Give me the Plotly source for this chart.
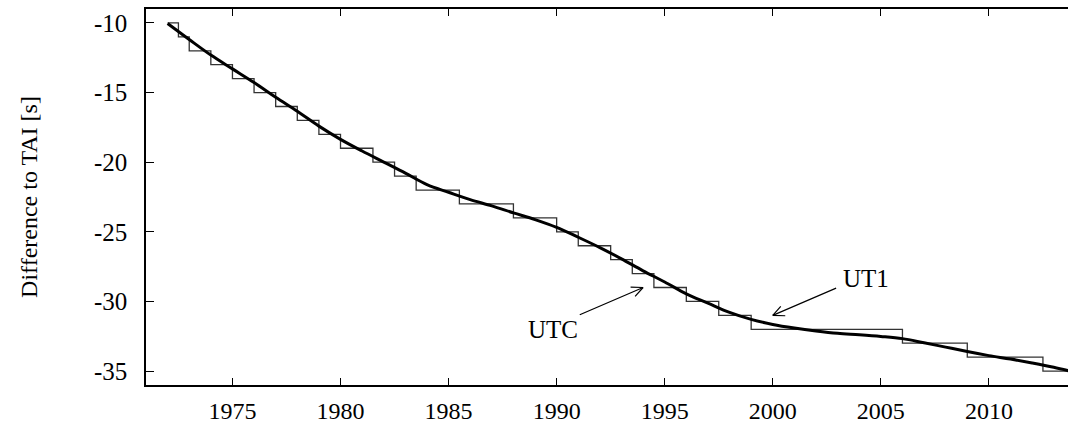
import plotly.graph_objects as go

# UTC - TAI: leap-second steps (epoch of change, value after change)
utc_years = [1972.0, 1972.5, 1973.0, 1974.0, 1975.0, 1976.0, 1977.0, 1978.0,
             1979.0, 1980.0, 1981.5, 1982.5, 1983.5, 1985.5, 1988.0, 1990.0,
             1991.0, 1992.5, 1993.5, 1994.5, 1996.0, 1997.5, 1999.0, 2006.0,
             2009.0, 2012.5, 2014.0]
utc_diff = [-10, -11, -12, -13, -14, -15, -16, -17,
            -18, -19, -20, -21, -22, -23, -24, -25,
            -26, -27, -28, -29, -30, -31, -32, -33,
            -34, -35, -35]

# UT1 - TAI, read at the start of each year
ut1_years = [1972, 1973, 1974, 1975, 1976, 1977, 1978, 1979, 1980, 1981,
             1982, 1983, 1984, 1985, 1986, 1987, 1988, 1989, 1990, 1991,
             1992, 1993, 1994, 1995, 1996, 1997, 1998, 1999, 2000, 2001,
             2002, 2003, 2004, 2005, 2006, 2007, 2008, 2009, 2010, 2011,
             2012, 2013, 2014]
ut1_diff = [-10.04, -11.19, -12.31, -13.30, -14.28, -15.34, -16.35, -17.41,
            -18.36, -19.20, -19.99, -20.78, -21.61, -22.16, -22.69, -23.14,
            -23.64, -24.12, -24.68, -25.39, -26.13, -26.94, -27.80, -28.60,
            -29.45, -30.12, -30.79, -31.29, -31.65, -31.91, -32.12, -32.29,
            -32.39, -32.51, -32.67, -32.97, -33.28, -33.60, -33.89, -34.14,
            -34.42, -34.73, -35.10]

x_ticks = [1975, 1980, 1985, 1990, 1995, 2000, 2005, 2010]
y_ticks = [-35, -30, -25, -20, -15, -10]

FONT = "Liberation Serif"

fig = go.Figure()
fig.add_trace(go.Scatter(
    x=utc_years, y=utc_diff, mode="lines", line_shape="hv",
    line=dict(color="#333333", width=1.3), name="UTC",
))
fig.add_trace(go.Scatter(
    x=ut1_years, y=ut1_diff, mode="lines", line_shape="spline",
    line=dict(color="black", width=3), name="UT1",
))


def open_arrow(x0, y0, x1, y1, label, lx, ly, anchor):
    # shaft
    fig.add_annotation(x=x1, y=y1, ax=x0, ay=y0, axref="x", ayref="y",
                       xref="x", yref="y", text="", showarrow=True,
                       arrowhead=0, arrowwidth=1.2, arrowcolor="black")
    # open "V" head: two short wings, pixel offsets from the tip
    dx, dy = (x1 - x0) * 21.6, -(y1 - y0) * 13.9
    n = (dx ** 2 + dy ** 2) ** 0.5
    ux, uy = dx / n, dy / n
    for s in (1, -1):
        c, sn = 0.906, 0.423 * s
        wx = -(ux * c - uy * sn) * 14
        wy = -(ux * sn + uy * c) * 14
        fig.add_annotation(x=x1, y=y1, ax=wx, ay=wy, xref="x", yref="y",
                           text="", showarrow=True, arrowhead=0,
                           arrowwidth=1.2, arrowcolor="black")
    fig.add_annotation(x=lx, y=ly, text=label, showarrow=False,
                       xanchor=anchor, font=dict(family=FONT, size=25, color="black"))


open_arrow(1991, -31, 1994, -29, "UTC", 1991.1, -32.05, "right")
open_arrow(2003, -29, 2000, -31, "UT1", 2003.15, -28.35, "left")

fig.update_layout(
    width=1068, height=425,
    margin=dict(l=146, r=0, t=9, b=40),
    plot_bgcolor="white", paper_bgcolor="white",
    showlegend=False,
    font=dict(family=FONT, size=25, color="black"),
    xaxis=dict(range=[1971, 2013.66], tickvals=x_ticks, ticks="inside",
               ticklen=7, tickwidth=1, tickcolor="black", showline=True,
               linecolor="black", linewidth=1.5, mirror="ticks",
               showgrid=False, zeroline=False, ticklabelstandoff=3,
               tickfont=dict(size=24), automargin=False),
    yaxis=dict(range=[-36, -9], tickvals=y_ticks, ticktext=[str(v) for v in y_ticks],
               ticks="inside", ticklen=8, tickwidth=1, tickcolor="black",
               showline=True, linecolor="black", linewidth=1.5,
               showgrid=False, zeroline=False, ticklabelstandoff=12,
               automargin=False,
               title=dict(text="Difference to TAI [s]", standoff=50,
                          font=dict(family=FONT, size=24))),
)

# page body has a default 8px margin; drop it so the figure fills the window
fig.write_html("out.html", config={"displayModeBar": False},
               post_script="document.body.style.margin='0';document.body.style.overflow='hidden';")
